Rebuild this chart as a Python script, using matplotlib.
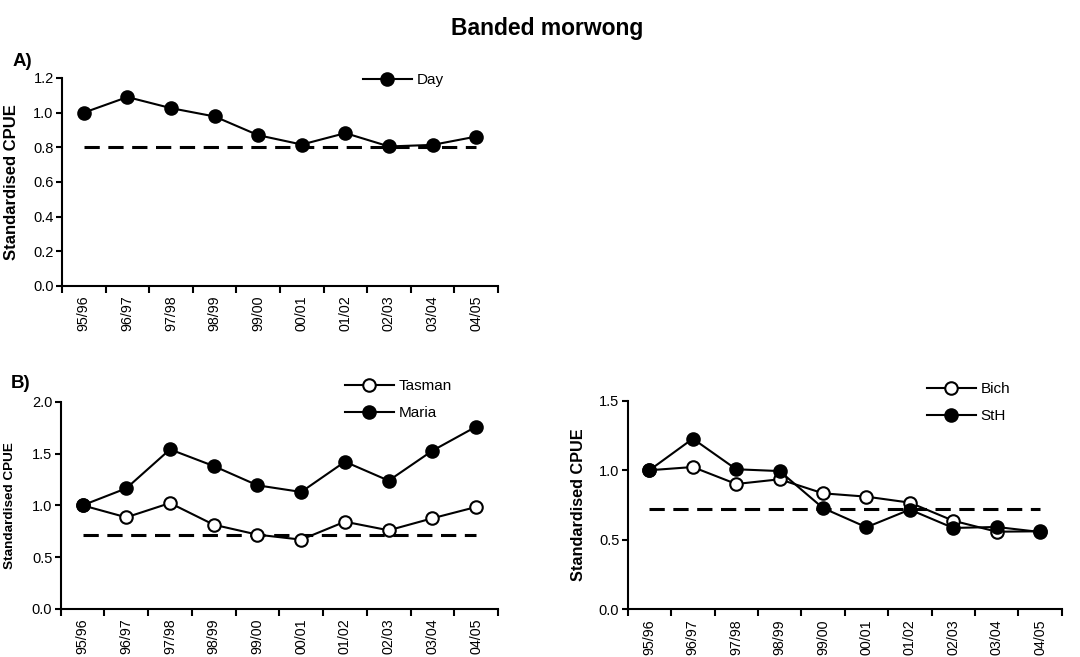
import matplotlib
matplotlib.use('Agg')
from matplotlib import pyplot as plt
import numpy as np

plt.rcParams['font.family'] = ['Liberation Sans', 'DejaVu Sans']

seasons = ['95/96', '96/97', '97/98', '98/99', '99/00',
           '00/01', '01/02', '02/03', '03/04', '04/05']

# standardised CPUE by season
day = [1.00, 1.09, 1.026, 0.978, 0.870, 0.816, 0.882, 0.805, 0.814, 0.862]
tasman = [1.00, 0.884, 1.022, 0.813, 0.717, 0.669, 0.842, 0.759, 0.875, 0.984]
maria = [1.00, 1.164, 1.540, 1.379, 1.193, 1.129, 1.421, 1.238, 1.527, 1.759]
bich = [1.00, 1.023, 0.901, 0.935, 0.834, 0.810, 0.767, 0.637, 0.558, 0.561]
sth = [1.00, 1.227, 1.007, 0.994, 0.728, 0.590, 0.717, 0.585, 0.592, 0.556]

# reference levels (dashed)
ref_day = 0.80
ref_east = 0.711
ref_south = 0.72

x = np.arange(len(seasons))


def style_axes(ax, ymax, ystep, ylab_size, ylab_x):
    for s in ['top', 'right']:
        ax.spines[s].set_visible(False)
    for s in ['left', 'bottom']:
        ax.spines[s].set_linewidth(1.5)
    ax.set_xlim(-0.5, len(seasons) - 0.5)
    ax.set_ylim(0, ymax)
    ax.set_yticks(np.arange(0, ymax + 1e-9, ystep))
    ax.set_yticklabels(['%.1f' % v for v in np.arange(0, ymax + 1e-9, ystep)])
    # category boundaries get the tick marks, centres get the labels
    ax.set_xticks(np.arange(-0.5, len(seasons)), minor=False)
    ax.set_xticklabels([''] * (len(seasons) + 1))
    ax.set_xticks(x, minor=True)
    ax.set_xticklabels(seasons, minor=True, rotation=90, fontsize=10.3)
    ax.tick_params(axis='x', which='major', direction='out', length=5, width=1.5)
    ax.tick_params(axis='x', which='minor', length=0, pad=7)
    ax.tick_params(axis='y', direction='out', length=4, width=1.5, labelsize=10.5, pad=2)
    ax.set_ylabel('Standardised CPUE', fontsize=ylab_size, fontweight='bold')
    ax.yaxis.set_label_coords(ylab_x, 0.5)


def draw_series(ax, vals, filled, label):
    ax.plot(x, vals, color='black', lw=1.5, marker='o', ms=9,
            mfc='black' if filled else 'white', mec='black', mew=1.5,
            label=label, zorder=3 if filled else 2.5)


def draw_ref(ax, level):
    ax.plot(x, [level] * len(x), color='black', lw=2.2,
            linestyle=(0, (5, 2.8)), zorder=2)


fig = plt.figure(figsize=(10.8, 6.57), dpi=100)

axA = fig.add_axes([0.0574, 0.5647, 0.4037, 0.3166])
axB1 = fig.add_axes([0.0562, 0.0731, 0.4049, 0.3155])
axB2 = fig.add_axes([0.5812, 0.0726, 0.4019, 0.3175])

draw_ref(axA, ref_day)
draw_series(axA, day, True, 'Day')
style_axes(axA, 1.2, 0.2, 12, -0.099)

draw_ref(axB1, ref_east)
draw_series(axB1, tasman, False, 'Tasman')
draw_series(axB1, maria, True, 'Maria')
style_axes(axB1, 2.0, 0.5, 9.7, -0.102)

draw_ref(axB2, ref_south)
draw_series(axB2, bich, False, 'Bich')
draw_series(axB2, sth, True, 'StH')
style_axes(axB2, 1.5, 0.5, 11.7, -0.097)

leg_kw = dict(frameon=False, fontsize=11, handlelength=3.2, handletextpad=0.3,
              borderpad=0, borderaxespad=0, labelspacing=0.85, loc='upper left',
              bbox_transform=fig.transFigure)
axA.legend(bbox_to_anchor=(363 / 1080, 1 - 73 / 657), **leg_kw)
axB1.legend(bbox_to_anchor=(345 / 1080, 1 - 379 / 657), **leg_kw)
axB2.legend(bbox_to_anchor=(927 / 1080, 1 - 382 / 657), **leg_kw)

fig.text(547 / 1080, 1 - 28 / 657, 'Banded morwong', fontsize=16.5,
         fontweight='bold', ha='center', va='center')
fig.text(13 / 1080, 1 - 61 / 657, 'A)', fontsize=13.5, fontweight='bold',
         ha='left', va='center')
fig.text(11 / 1080, 1 - 383 / 657, 'B)', fontsize=13.5, fontweight='bold',
         ha='left', va='center')

fig.savefig('out.png', dpi=100)
